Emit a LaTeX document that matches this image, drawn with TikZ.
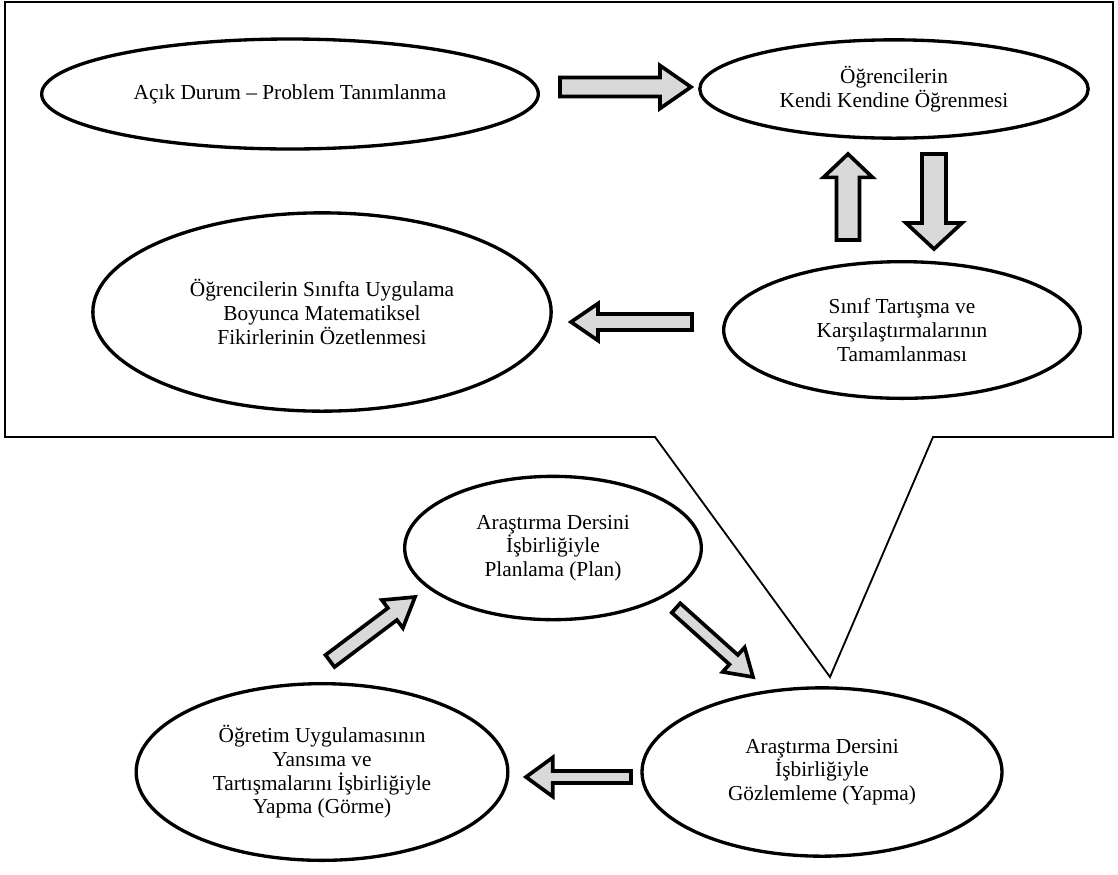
\documentclass[tikz,border=0pt]{standalone}
\usepackage{fontspec}
\setmainfont{Liberation Serif}
\usetikzlibrary{shapes.geometric,calc,positioning}
\definecolor{arrowgray}{RGB}{217,217,217}

% block arrow: #1 tail, #2 tip, #3 half shaft, #4 half head, #5 head length
\newcommand{\fatarrow}[5]{%
  \coordinate (fa-base) at ($(#2)!#5!(#1)$);
  \draw[fat arrow] ($(#1)!#3!90:(#2)$) -- ($(fa-base)!#3!90:(#2)$)
    -- ($(fa-base)!#4!90:(#2)$) -- (#2) -- ($(fa-base)!#4!-90:(#2)$)
    -- ($(fa-base)!#3!-90:(#2)$) -- ($(#1)!#3!-90:(#2)$) -- cycle;}

\begin{document}
\begin{tikzpicture}[x=0.6pt,y=-0.6pt,
    stage/.style={ellipse,draw,line width=2pt,fill=white,inner sep=0pt,
      align=center,font=\fontsize{12.8}{14.2}\selectfont},
    fat arrow/.style={draw,line width=2.2pt,fill=arrowgray,line join=miter},
    callout/.style={draw,line width=1.1pt,line join=miter}]
    \useasboundingbox (0,0) rectangle (1118,874);

    % the enlarged part of the lesson
    \draw[callout] (5,437) -- (5,2) -- (1113,2) -- (1113,437) -- (933,437)
      -- (830,677) -- (655,437) -- cycle;

    \node[stage,minimum width=298pt,minimum height=66pt] (acik)  at (290,94)
      {Açık Durum – Problem Tanımlanma};
    \node[stage,minimum width=233pt,minimum height=59pt] (kendi) at (894,89)
      {Öğrencilerin\\Kendi Kendine Öğrenmesi};
    \node[stage,minimum width=275pt,minimum height=119pt] (ozet) at (322,312)
      {Öğrencilerin Sınıfta Uygulama\\Boyunca Matematiksel\\Fikirlerinin Özetlenmesi};
    \node[stage,minimum width=214pt,minimum height=82pt] (sinif) at (902,330)
      {Sınıf Tartışma ve\\Karşılaştırmalarının\\Tamamlanması};

    % the lesson study cycle
    \node[stage,minimum width=178pt,minimum height=86pt] (plan)  at (553,548)
      {Araştırma Dersini\\İşbirliğiyle\\Planlama (Plan)};
    \node[stage,minimum width=216pt,minimum height=101pt] (yapma) at (822,772)
      {Araştırma Dersini\\İşbirliğiyle\\Gözlemleme (Yapma)};
    \node[stage,minimum width=223pt,minimum height=106pt] (gorme) at (322,772)
      {Öğretim Uygulamasının\\Yansıma ve\\Tartışmalarını İşbirliğiyle\\Yapma (Görme)};

    % arrow ends
    \coordinate (a1s) at (560,87);  \coordinate (a1e) at (691,87);
    \coordinate (a2s) at (848,240); \coordinate (a2e) at (848,154);
    \coordinate (a3s) at (934,154); \coordinate (a3e) at (934,249);
    \coordinate (a4s) at (692,322); \coordinate (a4e) at (571,322);
    \coordinate (a5s) at (330,661); \coordinate (a5e) at (415,597);
    \coordinate (a6s) at (676,608); \coordinate (a6e) at (753,677);
    \coordinate (a7s) at (631,777); \coordinate (a7e) at (526,777);

    \fatarrow{a1s}{a1e}{5.7pt}{12.9pt}{18.6pt}
    \fatarrow{a2s}{a2e}{6.9pt}{14.7pt}{14pt}
    \fatarrow{a3s}{a3e}{7.2pt}{16.8pt}{15.6pt}
    \fatarrow{a4s}{a4e}{4.8pt}{11.1pt}{16.2pt}
    \fatarrow{a5s}{a5e}{4.5pt}{10.5pt}{17pt}
    \fatarrow{a6s}{a6e}{3.8pt}{9.9pt}{15.6pt}
    \fatarrow{a7s}{a7e}{3.6pt}{11.7pt}{16pt}
\end{tikzpicture}
\end{document}
